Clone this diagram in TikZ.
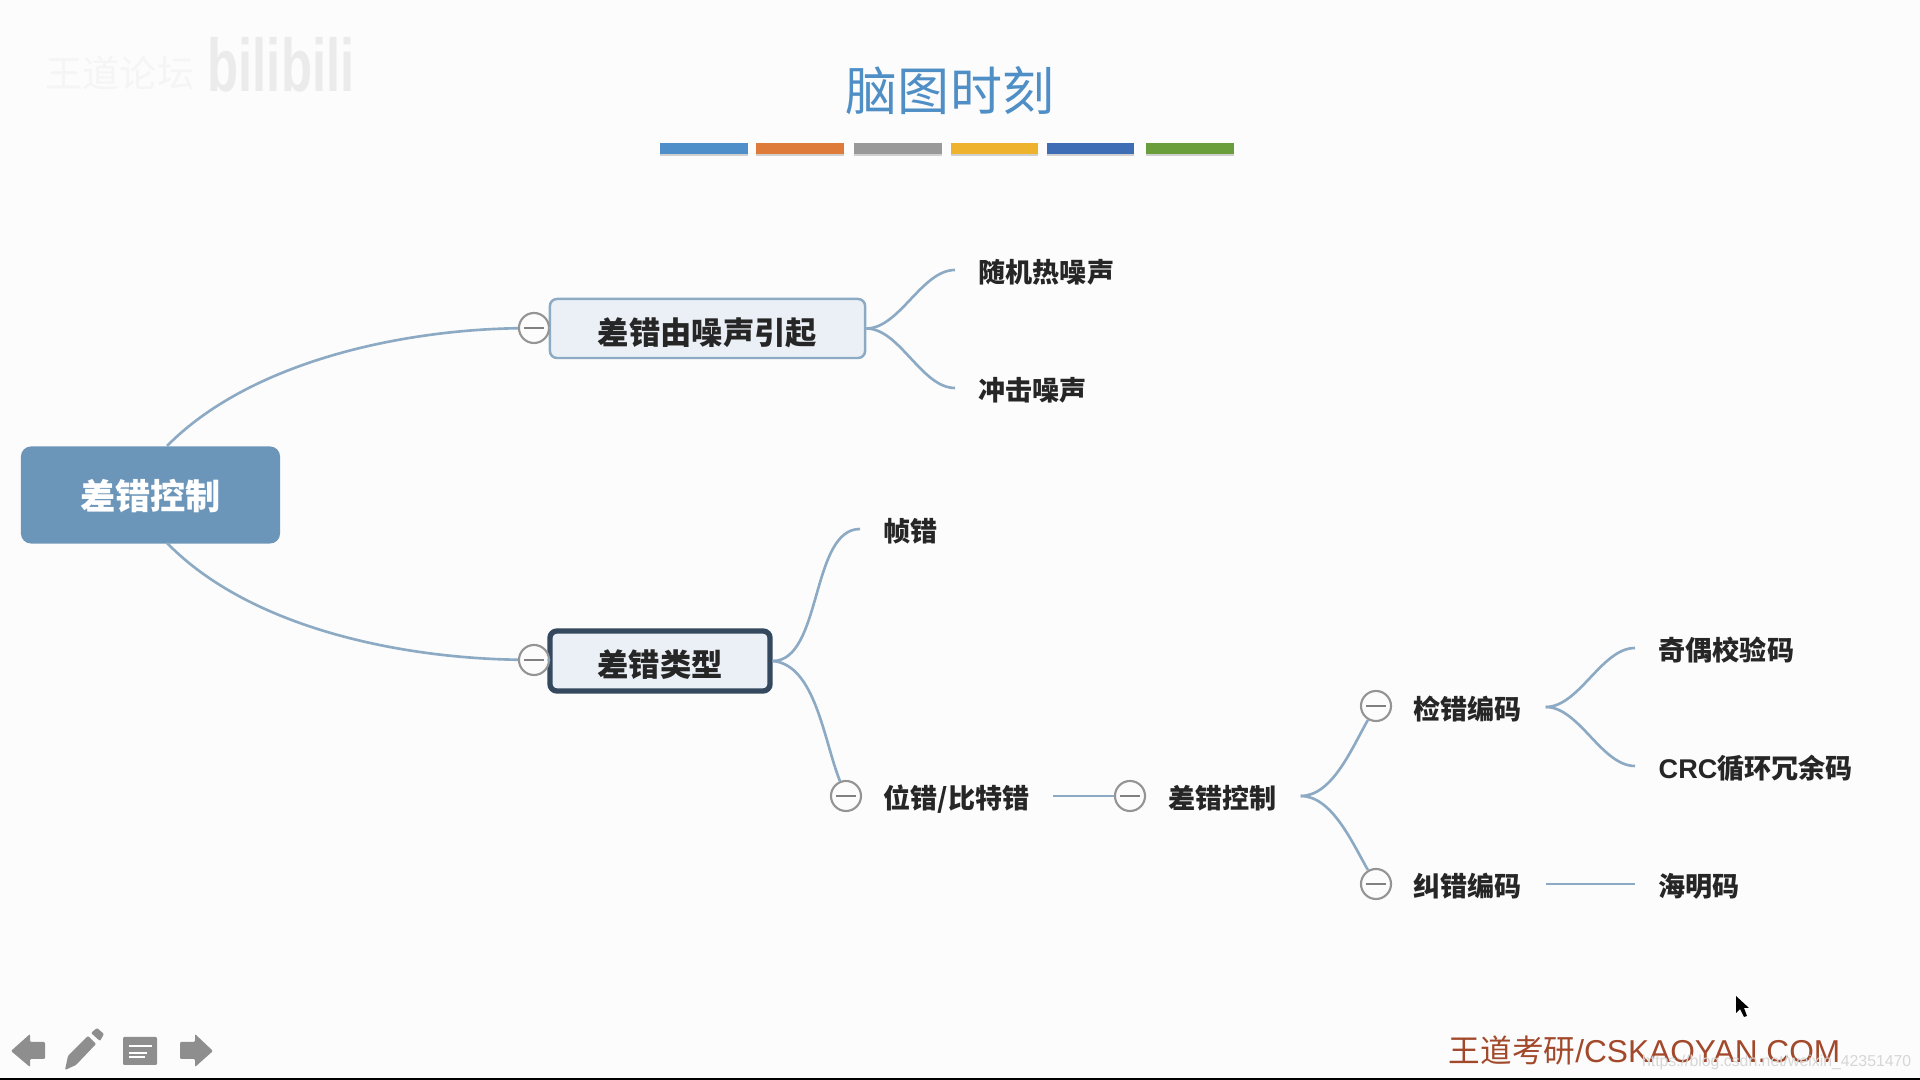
\documentclass[tikz,border=0pt]{standalone}
\usepackage{fontspec}
\setmainfont{Noto Sans CJK SC}
\newfontfamily\latinfont{Liberation Sans}
\usetikzlibrary{shadows}
\definecolor{pagebg}{HTML}{FCFCFC}
\definecolor{branchc}{HTML}{8DAAC4}
\definecolor{rootc}{HTML}{6C96B9}
\definecolor{boxc}{HTML}{EBF0F6}
\definecolor{darkc}{HTML}{34495E}
\definecolor{titlec}{HTML}{4F8FC6}
\definecolor{brandc}{HTML}{A2492B}
\definecolor{navc}{HTML}{8E8E8E}
\tikzset{
 branch/.style={draw=branchc,line width=.75pt},
 fork/.style={branch,out=0,in=180,looseness=.8},
 topic/.style={rectangle,rounded corners=.07cm,fill=boxc,font=\fontsize{8.9}{10}\selectfont\bfseries,text=black!85,inner sep=0pt,text height=.314cm,text depth=0pt},
 leaf/.style={anchor=west,inner xsep=.23cm,inner ysep=0pt,font=\fontsize{7.7}{9}\selectfont\bfseries,text=black!85,text height=.25cm,text depth=0pt},
 fold/.style={circle,draw=black!42,fill=pagebg,line width=.6pt,minimum size=.3cm,inner sep=0pt,
  path picture={\draw[black!50,line width=.55pt] ([xshift=.05cm]path picture bounding box.west)--([xshift=-.05cm]path picture bounding box.east);}},
 navicon/.style={fill=navc,rounded corners=.3pt}
}
\begin{document}
\begin{tikzpicture}[x=.01cm,y=-.01cm]
\useasboundingbox (0,0) rectangle (1920,1080);
\fill[pagebg] (0,0) rectangle (1920,1080);
\fill[black] (0,1078) rectangle (1920,1080);
\node[text=black!4,font=\fontsize{10.6}{12}\selectfont] (forum) at (120,73) {王道论坛};
\node[text=black!8,font=\latinfont\fontsize{17}{18}\selectfont\bfseries,xscale=.85,yscale=1.25] (bili) at (281,65) {bilibili};
\node[text=titlec,font=\fontsize{14.8}{17}\selectfont] (title) at (950,91) {脑图时刻};
\foreach \n/\a/\b/\c in {b1/660/748/4F8FC9,b2/756/844/DF7B3A,b3/854/942/999999,b4/951/1038/EFB22C,b5/1047/1134/3E6DB5,b6/1146/1234/6A9D3C}{
 \definecolor{barc}{HTML}{\c}
 \fill[barc,drop shadow={shadow xshift=0pt,shadow yshift=-.6pt,opacity=.35}] (\a,143) rectangle (\b,154);}
\node[rectangle,rounded corners=.1cm,fill=rootc,text=white,minimum width=2.59cm,minimum height=.97cm,inner sep=0pt,
 text height=.294cm,text depth=0pt,font=\fontsize{10}{12}\selectfont\bfseries] (root) at (150.5,495) {差错控制};
\node[topic,draw=branchc,line width=.7pt,minimum width=3.15cm,minimum height=.59cm] (noise) at (707.5,328.5) {差错由噪声引起};
\node[topic,draw=darkc,line width=1.5pt,minimum width=2.2cm,minimum height=.6cm] (kinds) at (660,661) {差错类型};
\foreach \n/\x/\y in {f1/534/328,f2/534/660,f3/846/796,f4/1130/796,f5/1376/706,f6/1376/884}
 \node[fold] (\n) at (\x,\y) {};
\foreach \n/\x/\y/\t in {random/955/270/随机热噪声,impulse/955/388/冲击噪声,frame/860/529/帧错,
 bit/860/796/{位错/比特错},ctrl/1145/796/差错控制,detect/1390/707/检错编码,correct/1390/884/纠错编码,
 parity/1635/648/奇偶校验码,crc/1635/766/{{\latinfont CRC}循环冗余码},hamming/1635/884/海明码}
 \node[leaf] (\n) at (\x,\y) {\t};
\coordinate (rootup) at (167,446);
\coordinate (rootdown) at (167,543);
\draw[branch] (rootup) .. controls (250,362) and (400,330) .. (f1);
\draw[branch] (rootdown) .. controls (250,628) and (400,658) .. (f2);
\draw[branch] (f1)--(noise);
\draw[branch] (f2)--(kinds);
\draw[fork] (noise.east) to (random.west);
\draw[fork] (noise.east) to (impulse.west);
\draw[fork] (kinds.east) to (frame.west);
\draw[branch] (kinds.east) to[out=-5,in=112,looseness=.8] (f3);
\draw[branch] (bit.east)--(f4);
\draw[branch] (ctrl.east) to[out=0,in=240,looseness=.8] (f5);
\draw[branch] (ctrl.east) to[out=0,in=120,looseness=.8] (f6);
\draw[fork] (detect.east) to (parity.west);
\draw[fork] (detect.east) to (crc.west);
\draw[branch] (correct.east)--(hamming.west);
\fill[navicon] (11,1051)--(30,1034)--(30,1042)--(45,1042)--(45,1059)--(30,1059)--(30,1067)--cycle;
\fill[navicon] (213,1051)--(195,1034)--(195,1042)--(180,1042)--(180,1059)--(195,1059)--(195,1067)--cycle;
\fill[navicon] (65,1070)--(68,1056)--(88,1036)--(96,1044)--(76,1065)--cycle;
\fill[navicon] (91,1033)--(97,1028)--(104,1034)--(100,1041)--cycle;
\fill[navicon] (123,1037) rectangle (157,1065);
\draw[white,line width=.6pt] (129,1046)--(152,1046) (129,1053)--(147,1053);
\draw[white,line width=.4pt] (129,1057)--(145,1057);
\fill[black] (1736,996)--(1736,1013)--(1740,1009)--(1744,1017)--(1747,1016)--(1744,1008)--(1749,1008)--cycle;
\node[anchor=west,inner sep=0pt,text=brandc,font=\fontsize{9}{10}\selectfont] (brand) at (1448,1050) {王道考研{\latinfont/CSKAOYAN.COM}};
\node[anchor=east,inner sep=0pt,text=black!16,font=\latinfont\fontsize{4.5}{5}\selectfont] (csdn) at (1912,1062) {https://blog.csdn.net/weixin\_42351470};
\end{tikzpicture}
\end{document}
